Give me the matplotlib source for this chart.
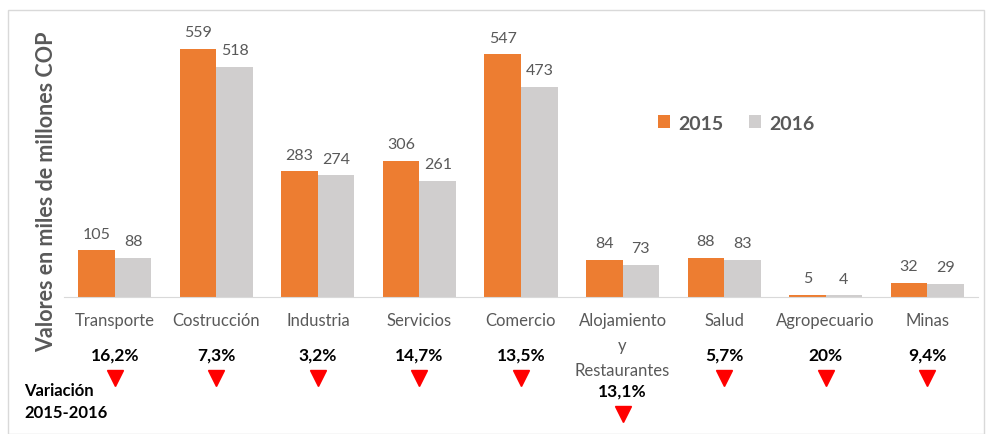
import matplotlib.pyplot as plt
import numpy as np
from matplotlib.patches import Rectangle
from matplotlib.transforms import blended_transform_factory

# Datos
categorias = ['Transporte', 'Costrucción', 'Industria', 'Servicios', 'Comercio',
              'Alojamiento\ny\nRestaurantes', 'Salud', 'Agropecuario', 'Minas']
valores_2015 = [105, 559, 283, 306, 547, 84, 88, 5, 32]
valores_2016 = [88, 518, 274, 261, 473, 73, 83, 4, 29]
variacion = ['16,2%', '7,3%', '3,2%', '14,7%', '13,5%', '13,1%', '5,7%', '20%', '9,4%']

NARANJA = '#ED7D31'
GRIS = '#D0CECE'
TEXTO = '#595959'
W, H = 986, 435

plt.rcParams['font.family'] = ['Lato', 'DejaVu Sans']

fig = plt.figure(figsize=(W / 100, H / 100), dpi=100)
ax = fig.add_axes([64 / W, 1 - 298 / H, (978 - 64) / W, (298 - 10) / H])

# borde del grafico
fig.patches.append(Rectangle((8 / W, 0), 976 / W, 1 - 11 / H, transform=fig.transFigure,
                             fill=False, edgecolor='#D9D9D9', linewidth=1))

x = np.arange(len(categorias))
ancho = 0.36
b1 = ax.bar(x - ancho / 2, valores_2015, ancho, color=NARANJA, label='2015')
b2 = ax.bar(x + ancho / 2, valores_2016, ancho, color=GRIS, label='2016')

for barras in (b1, b2):
    for b in barras:
        ax.annotate(f'{int(b.get_height())}', (b.get_x() + b.get_width() / 2, b.get_height()),
                    xytext=(0, 7), textcoords='offset points', ha='center', va='bottom',
                    fontsize=11.5, color=TEXTO)

ax.set_xlim(-0.5, len(categorias) - 0.5)
ax.set_ylim(0, 649)
ax.set_yticks([])
ax.set_xticks(x)
ax.set_xticklabels(categorias, fontsize=12, color=TEXTO, linespacing=1.7)
ax.tick_params(axis='x', length=0, pad=11)
for lado in ['top', 'right', 'left']:
    ax.spines[lado].set_visible(False)
ax.spines['bottom'].set_color('#D9D9D9')

fig.text(47 / W, 1 - 192 / H, 'Valores en miles de millones COP', rotation=90,
         ha='center', va='center', fontsize=15.5, fontweight='bold', color=TEXTO)

ax.legend(loc='center', bbox_to_anchor=(736 / W, 1 - 124 / H), bbox_transform=fig.transFigure,
          ncol=2, frameon=False, handlelength=0.65, handleheight=0.65, handletextpad=0.4,
          columnspacing=1.3, prop={'size': 14, 'weight': 'bold'}, labelcolor=TEXTO)

# variaciones
trans = blended_transform_factory(ax.transData, fig.transFigure)
for i, v in enumerate(variacion):
    extra = 36 if '\n' in categorias[i] else 0
    ax.text(i, 1 - (356 + extra) / H, v, transform=trans, ha='center', va='center',
            fontsize=12.5, fontweight='bold', color='black')
    ax.plot(i, 1 - (379 + extra) / H, marker='v', markersize=12, color='#FF0000',
            transform=trans, clip_on=False, linestyle='none')

fig.text(24 / W, 1 - 402 / H, 'Variación\n2015-2016', ha='left', va='center',
         fontsize=12, fontweight='bold', color='black', linespacing=1.5)

fig.savefig('out.png', dpi=100)
